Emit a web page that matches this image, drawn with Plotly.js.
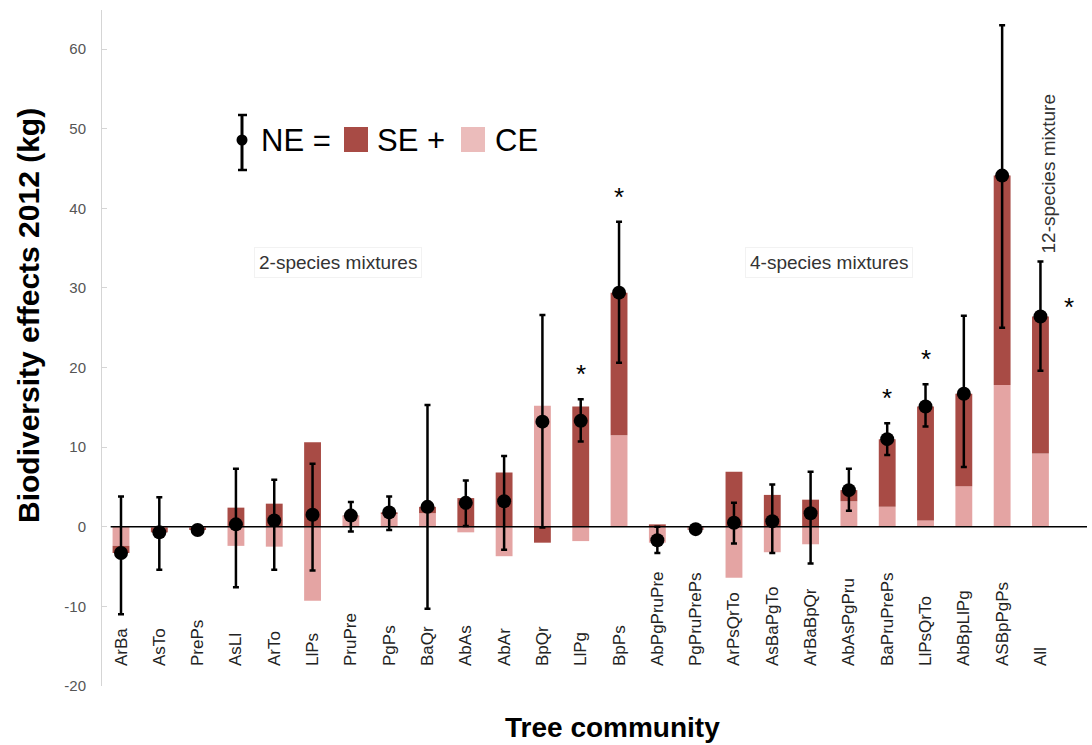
<!DOCTYPE html>
<html>
<head>
<meta charset="utf-8">
<script src="https://cdn.plot.ly/plotly-3.0.1.min.js"></script>
<style>html,body{margin:0;padding:0;background:#fff;}#chart{width:1092px;height:745px;}</style>
</head>
<body>
<div id="chart"></div>
<script>
// ---- data ----
const communities = ["ArBa","AsTo","PrePs","AsLl","ArTo","LlPs","PruPre","PgPs","BaQr","AbAs","AbAr","BpQr","LlPg","BpPs",
  "AbPgPruPre","PgPruPrePs","ArPsQrTo","AsBaPgTo","ArBaBpQr","AbAsPgPru","BaPruPrePs","LlPsQrTo","AbBpLlPg","ASBpPgPs","All"];
const tickLabels = ["ArBa","AsTo","PrePs","AsLl","ArTo","LlPs","PruPre","PgPs","BaQr","AbAs","AbAr","BpQr","LlPg","BpPs",
  "AbPgPruPre","PgPruPrePs","ArPsQrTo","AsBaPgTo","ArBaBpQr","AbAsPgPru","BaPruPrePs","LlPsQrTo","AbBpLlPg","ASBpPgPs","All"];
const CE = [-2.4,-0.1,-0.1,-2.4,-2.5,-9.3, 1.3, 1.6, 1.7,-0.7,-3.7,15.2,-1.8,11.5,
            -2.0,-0.4,-6.4,-3.2,-2.2, 3.2, 2.5, 0.8, 5.1,17.8, 9.2];
const SE = [-0.9,-0.6,-0.3, 2.4, 2.9,10.6, 0.1, 0.2, 0.8, 3.6, 6.8,-2.0,15.1,17.9,
             0.3, 0.1, 6.9, 4.0, 3.4, 1.4, 8.5,14.3,11.6,26.3,17.2];
const NE = [-3.3,-0.7,-0.4, 0.3, 0.8, 1.5, 1.4, 1.8, 2.5, 3.0, 3.2,13.2,13.3,29.4,
            -1.7,-0.3, 0.5, 0.7, 1.7, 4.6,11.0,15.1,16.7,44.1,26.4];
const errHigh = [ 3.8, 3.7, 0.0, 7.3, 5.9, 7.9, 3.1, 3.8,15.3, 5.8, 8.9,26.6,16.0,38.3,
                  0.0, 0.0, 3.0, 5.3, 6.9, 7.3,13.0,17.9,26.5,63.0,33.3];
const errLow  = [-11.0,-5.4,-0.8,-7.6,-5.4,-5.5,-0.6,-0.4,-10.3, 0.1,-2.9,-0.1,10.7,20.6,
                  -3.3,-0.6,-2.1,-3.3,-4.6, 2.0, 9.0,12.6, 7.5,25.0,19.6];
const significant = [12,13,20,21]; // asterisk above error bar
const significantSide = [24];      // asterisk beside point
const yTicks = [-20,-10,0,10,20,30,40,50,60];
const yTickText = ["-20","-10","0","10","20","30","40","50","60"];

// ---- styling ----
const DARK = "#a84b45", PINK = "#e4a4a3", PINK_LEG = "#ebbcbb";
const FONT = "Liberation Sans, Arial, Helvetica, sans-serif";
const L = 102, R = 5, T = 10, B = 59, W = 1092, H = 745;
const pw = W - L - R, ph = H - T - B;
const px = v => (v - L) / pw;          // pixel -> paper x
const py = v => (H - B - v) / ph;      // pixel -> paper y

const traces = [
  {type:"bar", x:communities, y:CE, marker:{color:PINK}, width:0.44, hoverinfo:"y", name:"CE"},
  {type:"bar", x:communities, y:SE, marker:{color:DARK}, width:0.44, hoverinfo:"y", name:"SE"},
  {type:"scatter", mode:"markers", x:communities, y:NE, name:"NE",
   marker:{color:"#000", size:14},
   error_y:{type:"data", symmetric:false,
     array: errHigh.map((h,i)=>Math.max(0,h-NE[i])),
     arrayminus: errLow.map((l,i)=>Math.max(0,NE[i]-l)),
     color:"#000", thickness:2.5, width:3}}
];

const ann = [];
const txt = (x, y, text, size, opts) => Object.assign({x:px(x), y:py(y), xref:"paper", yref:"paper", text:text,
  showarrow:false, xanchor:"center", yanchor:"middle", font:{family:FONT, size:size, color:"#000"}}, opts || {});
significant.forEach(i => ann.push({x:communities[i], y:errHigh[i], xref:"x", yref:"y", text:"*",
  showarrow:false, xanchor:"center", yanchor:"bottom", yshift:8, font:{family:FONT, size:26, color:"#000"}}));
significantSide.forEach(i => ann.push({x:communities[i], y:NE[i], xref:"x", yref:"y", text:"*",
  showarrow:false, xanchor:"center", yanchor:"middle", xshift:29, yshift:10, font:{family:FONT, size:26, color:"#000"}}));
// group labels
ann.push(txt(338, 262, "2-species mixtures", 19, {font:{family:FONT, size:19, color:"#333"}, bordercolor:"#f2f2f2", borderwidth:1, borderpad:4}));
ann.push(txt(829, 262, "4-species mixtures", 19, {font:{family:FONT, size:19, color:"#333"}, bordercolor:"#f2f2f2", borderwidth:1, borderpad:4}));
ann.push({x:"All", y:py(174), xref:"x", yref:"paper", xshift:8, text:"12-species mixture", showarrow:false, textangle:-90,
  xanchor:"center", yanchor:"middle", font:{family:FONT, size:19, color:"#333"}});
// legend text
ann.push(txt(259, 140, "NE =", 31, {xanchor:"left"}));
ann.push(txt(375, 140, "SE +", 31, {xanchor:"left"}));
ann.push(txt(493, 140, "CE", 31, {xanchor:"left"}));
// axis titles
ann.push(txt(612, 727, "<b>Tree community</b>", 28));
ann.push(txt(28, 316, "<b>Biodiversity effects 2012 (kg)</b>", 30, {textangle:-90}));

const shapes = [
  // zero line
  {type:"line", xref:"x", yref:"y", x0:-0.27, x1:25.3, y0:0, y1:0, line:{color:"#000", width:1.5}},
  // legend error-bar symbol
  {type:"line", xref:"paper", yref:"paper", x0:px(242), x1:px(242), y0:py(115), y1:py(170), line:{color:"#000", width:3}},
  {type:"line", xref:"paper", yref:"paper", x0:px(238), x1:px(247), y0:py(115), y1:py(115), line:{color:"#000", width:2.5}},
  {type:"line", xref:"paper", yref:"paper", x0:px(238), x1:px(247), y0:py(170), y1:py(170), line:{color:"#000", width:2.5}},
  {type:"circle", xref:"paper", yref:"paper", x0:px(236.5), x1:px(247.5), y0:py(134.5), y1:py(145.5), fillcolor:"#000", line:{width:0}},
  // legend squares
  {type:"rect", xref:"paper", yref:"paper", x0:px(344), x1:px(368), y0:py(127), y1:py(152), fillcolor:DARK, line:{width:0}},
  {type:"rect", xref:"paper", yref:"paper", x0:px(461), x1:px(485), y0:py(127), y1:py(152), fillcolor:PINK_LEG, line:{width:0}}
];

const layout = {
  width:W, height:H, margin:{l:L, r:R, t:T, b:B},
  paper_bgcolor:"#fff", plot_bgcolor:"#fff",
  barmode:"relative", showlegend:false,
  font:{family:FONT},
  xaxis:{type:"category", range:[-0.496, 25.215], anchor:"free", position:py(666), side:"top",
    tickangle:-90, tickmode:"array", tickvals:communities, ticktext:tickLabels,
    tickfont:{family:FONT, size:17, color:"#222"}, ticks:"", showline:false, showgrid:false, zeroline:false},
  yaxis:{range:[-20, 64.9], tickmode:"array", tickvals:yTicks, ticktext:yTickText, ticks:"inside", ticklen:5, tickcolor:"#d5d5d5",
    showline:true, linecolor:"#d5d5d5", linewidth:1, showgrid:false, zeroline:false,
    tickfont:{family:FONT, size:15, color:"#555"}, ticklabelstandoff:12},
  annotations:ann, shapes:shapes
};

Plotly.newPlot("chart", traces, layout, {displayModeBar:false, staticPlot:true});
</script>
</body>
</html>
